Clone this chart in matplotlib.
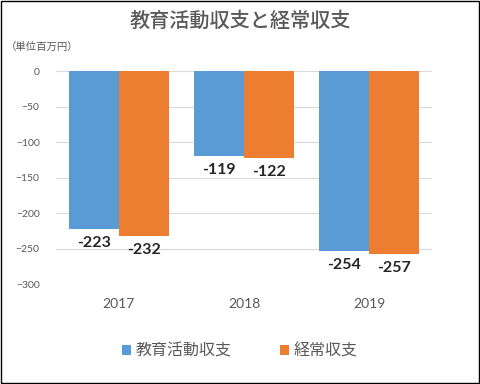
import numpy as np
import matplotlib.pyplot as plt
from matplotlib.patches import Rectangle

plt.rcParams['font.family'] = ['Noto Sans CJK JP', 'DejaVu Sans']

# データ
years = ['2017', '2018', '2019']
kyoiku = [-223, -119, -254]   # 教育活動収支
keijo = [-232, -122, -257]    # 経常収支
series_names = ['教育活動収支', '経常収支']
colors = ['#5B9BD5', '#ED7D31']

fig = plt.figure(figsize=(4.8, 3.84), dpi=100)
ax = fig.add_axes([0.117, 0.26, 0.783, 0.555])

x = np.arange(len(years))
w = 0.4
b1 = ax.bar(x - w/2, kyoiku, w, color=colors[0], label=series_names[0], zorder=2)
b2 = ax.bar(x + w/2, keijo, w, color=colors[1], label=series_names[1], zorder=2)

# 値ラベル
for bars in (b1, b2):
    for rect in bars:
        v = rect.get_height()
        ax.annotate(f'{v:.0f}', (rect.get_x() + rect.get_width()/2, v),
                    xytext=(0, -5), textcoords='offset points',
                    ha='center', va='top', fontsize=11.5, fontweight='bold',
                    family='Lato', color='#262626', zorder=3)

ax.set_xlim(-0.5, 2.5)
ax.set_ylim(-300, 0)
ax.set_yticks(np.arange(-300, 1, 50))
ax.set_xticks(x)
ax.set_xticklabels(years, family='Lato')
for t in ax.get_yticklabels():
    t.set_family('Lato')
ax.tick_params(axis='y', length=0, labelsize=7.5, labelcolor='#595959', pad=12)
ax.tick_params(axis='x', length=0, labelsize=10, labelcolor='#595959', pad=10)
ax.grid(axis='y', color='#D9D9D9', lw=0.8, zorder=0)
for s in ax.spines.values():
    s.set_visible(False)

fig.text(0.5, 0.945, '教育活動収支と経常収支', ha='center', va='center',
         fontsize=14.5, fontweight='medium', color='#595959')
fig.text(0.012, 0.877, '（単位百万円）', ha='left', va='center',
         fontsize=7.5, color='#595959')

fig.legend(loc='center', bbox_to_anchor=(0.5, 0.085), ncol=2, frameon=False,
           fontsize=11.5, handlelength=0.55, handleheight=0.55, handletextpad=0.3,
           columnspacing=3, labelcolor='#595959')

fig.add_artist(Rectangle((0.002, 0.002), 0.996, 0.996, transform=fig.transFigure,
                         fill=False, edgecolor='black', lw=1))

fig.savefig('out.png', dpi=100)
